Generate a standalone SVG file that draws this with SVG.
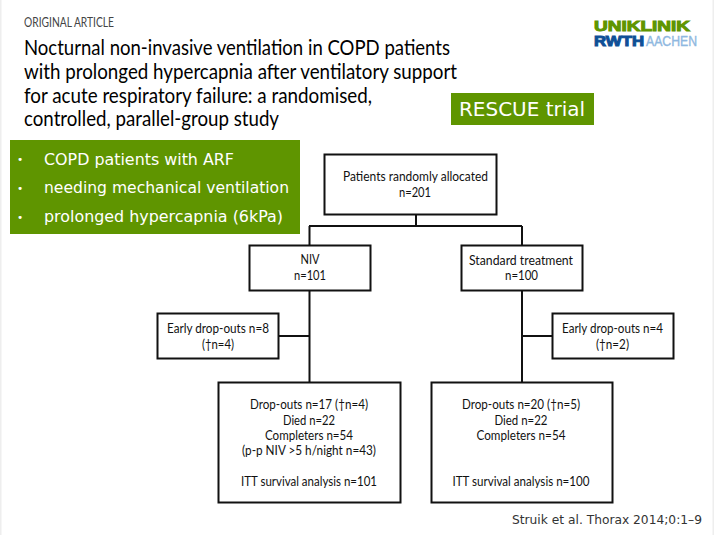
<svg xmlns="http://www.w3.org/2000/svg" width="714" height="535" viewBox="0 0 714 535">
<style>
.box{fill:#fff;stroke:#111;stroke-width:2}
.conn{fill:none;stroke:#111;stroke-width:2}
.f{font-family:"Lato","Liberation Sans",sans-serif;font-size:13px;fill:#111;text-anchor:middle}
.t{font-family:"Lato","Liberation Sans",sans-serif;font-size:21px;fill:#000}
.g{font-family:"DejaVu Sans",sans-serif;fill:#fff}
.b{font-family:"DejaVu Sans",sans-serif;fill:#fff;font-size:10.5px}
.gb{fill:#5f9500}
.lg{font-family:"Liberation Sans",sans-serif;font-size:14.5px}
</style>
<rect width="714" height="535" fill="#fff"/>
<rect x="0" y="0" width="1.5" height="535" fill="#eee"/>
<rect x="712.500" y="0" width="1.500" height="535" fill="#eee"/>
<g id="header">
<text x="24" y="27" textLength="90" lengthAdjust="spacingAndGlyphs" style="font-family:'Lato',sans-serif;font-size:12.5px;fill:#444">ORIGINAL ARTICLE</text>
<text class="t" x="24" y="54.500" textLength="426" lengthAdjust="spacingAndGlyphs">Nocturnal non-invasive ventilation in COPD patients</text>
<text class="t" x="24" y="78.500" textLength="433" lengthAdjust="spacingAndGlyphs">with prolonged hypercapnia after ventilatory support</text>
<text class="t" x="24" y="102.500" textLength="348" lengthAdjust="spacingAndGlyphs">for acute respiratory failure: a randomised,</text>
<text class="t" x="24" y="126" textLength="255" lengthAdjust="spacingAndGlyphs">controlled, parallel-group study</text>
</g>
<g id="logo">
<text class="lg" x="594" y="30.500" textLength="96" lengthAdjust="spacingAndGlyphs" style="font-weight:700;fill:#5f9500;stroke:#5f9500;stroke-width:1">UNIKLINIK</text>
<text class="lg" x="594" y="46" textLength="50" lengthAdjust="spacingAndGlyphs" style="font-weight:700;fill:#0f4f96;stroke:#0f4f96;stroke-width:1">RWTH</text>
<text class="lg" x="646" y="46" textLength="51" lengthAdjust="spacingAndGlyphs" style="fill:#8fb8e0;stroke:#8fb8e0;stroke-width:.4">AACHEN</text>
</g>
<g id="rescue">
<rect class="gb" x="451" y="93" width="143" height="32"/>
<text class="g" x="459" y="115.500" font-size="20" textLength="126" lengthAdjust="spacingAndGlyphs">RESCUE trial</text>
</g>
<g id="criteria">
<rect class="gb" x="10" y="140" width="290" height="94"/>
<g font-size="15.500">
<text class="b" x="17" y="162.500">•</text><text class="g" x="44" y="165" textLength="190" lengthAdjust="spacingAndGlyphs">COPD patients with ARF</text>
<text class="b" x="17" y="191.500">•</text><text class="g" x="44" y="193" textLength="245" lengthAdjust="spacingAndGlyphs">needing mechanical ventilation</text>
<text class="b" x="17" y="220.500">•</text><text class="g" x="44" y="222" textLength="239" lengthAdjust="spacingAndGlyphs">prolonged hypercapnia (6kPa)</text>
</g>
</g>
<g id="connectors">
<path class="conn" d="M416 215V226M309 226H522M309.500 226V246M522 226V246M309.500 291V382M522 291V382M279 336H309.500M522 336H552"/>
</g>
<g id="n-allocated"><rect class="box" x="324.500" y="154.500" width="172" height="60"/>
<text class="f" x="415.500" y="181" textLength="145" lengthAdjust="spacingAndGlyphs">Patients randomly allocated</text><text class="f" x="415" y="197" textLength="32" lengthAdjust="spacingAndGlyphs">n=201</text></g>
<g id="n-niv"><rect class="box" x="249.500" y="245.500" width="121" height="45"/>
<text class="f" x="310" y="264" textLength="19" lengthAdjust="spacingAndGlyphs">NIV</text><text class="f" x="310" y="280" textLength="32" lengthAdjust="spacingAndGlyphs">n=101</text></g>
<g id="n-std"><rect class="box" x="461.500" y="245.500" width="121" height="45"/>
<text class="f" x="521" y="265" textLength="104" lengthAdjust="spacingAndGlyphs">Standard treatment</text><text class="f" x="521.500" y="280" textLength="33" lengthAdjust="spacingAndGlyphs">n=100</text></g>
<g id="n-early1"><rect class="box" x="157.500" y="313.500" width="121" height="45"/>
<text class="f" x="218" y="333" textLength="102" lengthAdjust="spacingAndGlyphs">Early drop-outs n=8</text><text class="f" x="218" y="349" textLength="32" lengthAdjust="spacingAndGlyphs">(†n=4)</text></g>
<g id="n-early2"><rect class="box" x="552.500" y="313.500" width="121" height="45"/>
<text class="f" x="612.500" y="333" textLength="101" lengthAdjust="spacingAndGlyphs">Early drop-outs n=4</text><text class="f" x="612.500" y="349" textLength="33" lengthAdjust="spacingAndGlyphs">(†n=2)</text></g>
<g id="n-final1"><rect class="box" x="218.500" y="382.500" width="182" height="120"/>
<text class="f" x="309" y="409" textLength="118" lengthAdjust="spacingAndGlyphs">Drop-outs n=17 (†n=4)</text><text class="f" x="309" y="424.500" textLength="52" lengthAdjust="spacingAndGlyphs">Died n=22</text><text class="f" x="309" y="440" textLength="88" lengthAdjust="spacingAndGlyphs">Completers n=54</text><text class="f" x="309" y="455" textLength="134" lengthAdjust="spacingAndGlyphs">(p-p NIV &gt;5 h/night n=43)</text><text class="f" x="309" y="486" textLength="136" lengthAdjust="spacingAndGlyphs">ITT survival analysis n=101</text></g>
<g id="n-final2"><rect class="box" x="431.500" y="382.500" width="181" height="120"/>
<text class="f" x="521" y="409" textLength="118" lengthAdjust="spacingAndGlyphs">Drop-outs n=20 (†n=5)</text><text class="f" x="521" y="424.500" textLength="53" lengthAdjust="spacingAndGlyphs">Died n=22</text><text class="f" x="521" y="440" textLength="89" lengthAdjust="spacingAndGlyphs">Completers n=54</text><text class="f" x="521" y="486" textLength="137" lengthAdjust="spacingAndGlyphs">ITT survival analysis n=100</text></g>
<text id="citation" x="512" y="524" textLength="190" lengthAdjust="spacingAndGlyphs" style="font-family:'DejaVu Sans',sans-serif;font-size:12.5px;fill:#333">Struik et al. Thorax 2014;0:1–9</text>
</svg>
